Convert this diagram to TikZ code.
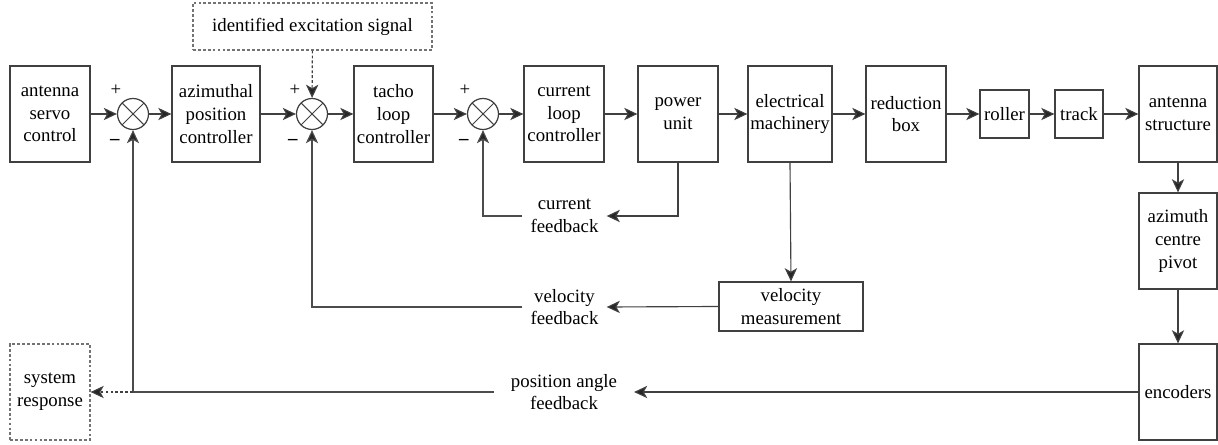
\documentclass[tikz,border=0pt]{standalone}
\usepackage{fontspec}
\setmainfont{Liberation Serif}
\usetikzlibrary{arrows.meta,calc}
\tikzset{
  blk/.style={draw=black!75, line width=0.7pt, minimum width=1.6cm, minimum height=1.92cm,
    inner sep=0pt, align=center, font=\rmfamily\fontsize{10.7}{12.9}\selectfont},
  dashblk/.style={blk, draw=black!55, dash pattern=on 1.6pt off 1.2pt},
  sumjn/.style={circle, draw=black!75, line width=0.7pt, minimum size=0.62cm, inner sep=0pt,
    path picture={\draw[black!75, line width=0.6pt] (path picture bounding box.north west) -- (path picture bounding box.south east)
      (path picture bounding box.north east) -- (path picture bounding box.south west);}},
  lbl/.style={inner ysep=0pt, inner xsep=4.5pt, align=center, font=\rmfamily\fontsize{10.7}{13}\selectfont},
  sgn/.style={inner sep=0pt, font=\rmfamily\fontsize{10.7}{13}\selectfont},
  sig/.style={draw=black!75, line width=0.65pt, -{Stealth[length=7.5pt,width=7pt,inset=2pt,fill=black!85]}},
  fb/.style={draw=black!70, line width=0.65pt}
}
\begin{document}
\begin{tikzpicture}
	%%%%% FORWARD PATH %%%%%
	\useasboundingbox (0, 0) rectangle (24.36, -8.9);
	
	\node[blk] (servo) at (1.0, -2.28) {antenna\\servo\\control};
	\node[sumjn] (sum1) at (2.66, -2.28) {};
	\node[blk, minimum width=1.76cm] (azpos) at (4.32, -2.28) {azimuthal\\position\\controller};
	\node[sumjn] (sum2) at (6.24, -2.28) {};
	\node[blk, minimum width=1.58cm] (tacho) at (7.87, -2.28) {tacho\\loop\\controller};
	\node[sumjn] (sum3) at (9.66, -2.28) {};
	\node[blk] (curloop) at (11.28, -2.28) {current\\loop\\controller};
	\node[blk] (power) at (13.56, -2.28) {power\\unit};
	\node[blk, minimum width=1.68cm] (elec) at (15.8, -2.28) {electrical\\machinery};
	\node[blk] (redbox) at (18.12, -2.28) {reduction\\box};
	\node[blk, minimum width=0.98cm, minimum height=0.96cm] (roller) at (20.09, -2.28) {roller};
	\node[blk, minimum width=0.96cm, minimum height=0.96cm] (track) at (21.58, -2.28) {track};
	\node[blk, minimum width=1.56cm] (antstruct) at (23.56, -2.28) {antenna\\structure};
	\node[blk, minimum width=1.56cm] (pivot) at (23.56, -4.82) {azimuth\\centre\\pivot};
	\node[blk, minimum width=1.56cm] (encoders) at (23.56, -7.84) {encoders};
	\node[blk, minimum width=2.88cm, minimum height=0.98cm] (velmeas) at (15.82, -6.13) {velocity\\measurement};
	
	\node[dashblk, minimum width=4.78cm, minimum height=0.94cm] (excite) at (6.25, -0.53) {identified excitation signal};
	\node[dashblk] (sysresp) at (1.0, -7.84) {system\\response};
	
	% signs
	\node[sgn] (plus1) at ($(sum1)+(-0.34, 0.48)$) {+};
	\node[sgn] (minus1) at ($(sum1)+(-0.36, -0.56)$) {\textbf{--}};
	\node[sgn] (plus2) at ($(sum2)+(-0.34, 0.48)$) {+};
	\node[sgn] (minus2) at ($(sum2)+(-0.38, -0.56)$) {\textbf{--}};
	\node[sgn] (plus3) at ($(sum3)+(-0.36, 0.48)$) {+};
	\node[sgn] (minus3) at ($(sum3)+(-0.38, -0.56)$) {\textbf{--}};
	
	% feedback labels
	\node[lbl] (curfb) at (11.29, -4.32) {current\\feedback};
	\node[lbl] (velfb) at (11.29, -6.14) {velocity\\feedback};
	\node[lbl, inner xsep=9.5pt] (posfb) at (11.28, -7.84) {position angle\\feedback};
	
	\draw[sig] (servo) -- (sum1);
	\draw[sig] (sum1) -- (azpos);
	\draw[sig] (azpos) -- (sum2);
	\draw[sig] (sum2) -- (tacho);
	\draw[sig] (tacho) -- (sum3);
	\draw[sig] (sum3) -- (curloop);
	\draw[sig] (curloop) -- (power);
	\draw[sig] (power) -- (elec);
	\draw[sig] (elec) -- (redbox);
	\draw[sig] (redbox) -- (roller);
	\draw[sig] (roller) -- (track);
	\draw[sig] (track) -- (antstruct);
	\draw[sig] (antstruct) -- (pivot);
	\draw[sig] (pivot) -- (encoders);
	\draw[sig, dash pattern=on 1.6pt off 1.2pt] (excite) -- (sum2);
	
	%%%%% FEEDBACK %%%%%
	\draw[sig] (power.south) |- (curfb.east);
	\draw[sig, fb] (curfb.west) -| (sum3.south);
	\draw[sig] (elec.south) -- (velmeas.north);
	\draw[sig] (velmeas.west) -- (velfb.east);
	\draw[sig, fb] (velfb.west) -| (sum2.south);
	\draw[sig] (encoders.west) -- (posfb.east);
	\draw[sig, fb] (posfb.west) -| (sum1.south);
	\coordinate (pj) at (sum1.south |- posfb.west);
	\draw[sig, dash pattern=on 1.6pt off 1.2pt] (pj) -- (sysresp.east);
	
\end{tikzpicture}
\end{document}
